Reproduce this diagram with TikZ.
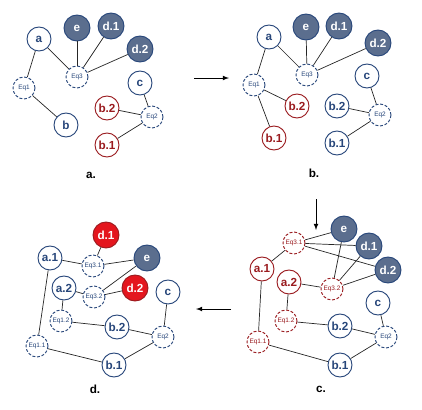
\documentclass[tikz,border=0pt]{standalone}
\usepackage{fontspec}
\setmainfont{Liberation Sans}
\usetikzlibrary{arrows}
\definecolor{nblue}{HTML}{27467A}
\definecolor{nslate}{HTML}{5B6E8E}
\definecolor{nred}{HTML}{9A1B1F}
\definecolor{nbright}{HTML}{E4161E}
\begin{document}
\begin{tikzpicture}[x=0.03cm,y=-0.03cm]

\useasboundingbox (0,0) rectangle (422,409);

\tikzstyle{var}=[shape=circle,draw=nblue,line width=0.8pt,fill=white,minimum size=0.72cm,inner sep=0pt,font=\bfseries\fontsize{10}{10}\selectfont,text=nblue]
\tikzstyle{redvar}=[var,draw=nred,text=nred]
\tikzstyle{fixed}=[var,fill=nslate,text=white,minimum size=0.78cm]
\tikzstyle{hot}=[var,draw=nred,fill=nbright,text=white,minimum size=0.78cm]
\tikzstyle{eqn}=[shape=circle,draw=nblue,dash pattern=on 2.5pt off 1.5pt,line width=0.8pt,fill=white,minimum size=0.66cm,inner sep=0pt,font=\fontsize{5.5}{5.5}\selectfont,text=nblue]
\tikzstyle{redeqn}=[eqn,draw=nred,text=nred]
\tikzstyle{caption}=[font=\bfseries\fontsize{10}{10}\selectfont]
\tikzstyle{link}=[line width=0.6pt,black!85]

% panel a
\path (39,39)   node[var] (Aa) {a};
\path (77,28)   node[fixed] (Ae) {e};
\path (111,26)  node[fixed] (Ad1) {d.1};
\path (140,49)  node[fixed] (Ad2) {d.2};
\path (77,77)   node[eqn] (AEq3) {Eq3};
\path (24,88)   node[eqn] (AEq1) {Eq1};
\path (66,125)  node[var] (Ab) {b};
\path (140,83)  node[var] (Ac) {c};
\path (107,108) node[redvar] (Ab2) {b.2};
\path (152,117) node[eqn] (AEq2) {Eq2};
\path (107,145) node[redvar] (Ab1) {b.1};
\path (91,175)  node[caption] (Acap) {a.};

% panel b
\path (269,37)  node[var] (Ba) {a};
\path (306,27)  node[fixed] (Be) {e};
\path (339,26)  node[fixed] (Bd1) {d.1};
\path (378,43)  node[fixed] (Bd2) {d.2};
\path (307,75)  node[eqn] (BEq3) {Eq3};
\path (254,85)  node[eqn] (BEq1) {Eq1};
\path (297,106) node[redvar] (BRb2) {b.2};
\path (274,138) node[redvar] (BRb1) {b.1};
\path (367,76)  node[var] (Bc) {c};
\path (337,106) node[var] (Bb2) {b.2};
\path (380,115) node[eqn] (BEq2) {Eq2};
\path (337,143) node[var] (Bb1) {b.1};
\path (314,173) node[caption] (Bcap) {b.};

% panel c
\path (344,229) node[fixed] (Ce) {e};
\path (294,243) node[redeqn] (CEq31) {Eq3.1};
\path (369,246) node[fixed] (Cd1) {d.1};
\path (262,269) node[redvar] (Ca1) {a.1};
\path (388,270) node[fixed] (Cd2) {d.2};
\path (289,282) node[redvar] (Ca2) {a.2};
\path (332,289) node[redeqn] (CEq32) {Eq3.2};
\path (378,303) node[var] (Cc) {c};
\path (286,321) node[redeqn] (CEq12) {Eq1.2};
\path (340,326) node[var] (Cb2) {b.2};
\path (386,337) node[eqn] (CEq2) {Eq2};
\path (258,342) node[redeqn] (CEq11) {Eq1.1};
\path (340,365) node[var] (Cb1) {b.1};
\path (321,389) node[caption] (Ccap) {c.};

% panel d
\path (106,235) node[hot] (Dd1) {d.1};
\path (50,258)  node[var] (Da1) {a.1};
\path (93,266)  node[eqn] (DEq31) {Eq3.1};
\path (147,258) node[fixed] (De) {e};
\path (64,288)  node[var] (Da2) {a.2};
\path (94,297)  node[eqn] (DEq32) {Eq3.2};
\path (135,288) node[hot] (Dd2) {d.2};
\path (168,292) node[var] (Dc) {c};
\path (61,321)  node[eqn] (DEq12) {Eq1.2};
\path (117,327) node[var] (Db2) {b.2};
\path (163,337) node[eqn] (DEq2) {Eq2};
\path (37,346)  node[eqn] (DEq11) {Eq1.1};
\path (114,365) node[var] (Db1) {b.1};
\path (95,389)  node[caption] (Dcap) {d.};

% arrow ends
\coordinate (AtoBs) at (194,78);
\coordinate (AtoBe) at (229,78);
\coordinate (BtoCs) at (316,199);
\coordinate (BtoCe) at (316,230);
\coordinate (CtoDs) at (231,309);
\coordinate (CtoDe) at (196,309);

% edges
\draw[link] (Aa) -- (AEq1);
\draw[link] (Aa) -- (AEq3);
\draw[link] (AEq3) -- (Ae);
\draw[link] (AEq3) -- (Ad1);
\draw[link] (AEq3) -- (Ad2);
\draw[link] (AEq1) -- (Ab);
\draw[link] (Ac) -- (AEq2);
\draw[link] (Ab2) -- (AEq2);
\draw[link] (Ab1) -- (AEq2);

\draw[link] (Ba) -- (BEq1);
\draw[link] (Ba) -- (BEq3);
\draw[link] (BEq3) -- (Be);
\draw[link] (BEq3) -- (Bd1);
\draw[link] (BEq3) -- (Bd2);
\draw[link] (BEq1) -- (BRb2);
\draw[link] (BEq1) -- (BRb1);
\draw[link] (Bc) -- (BEq2);
\draw[link] (Bb2) -- (BEq2);
\draw[link] (Bb1) -- (BEq2);

\draw[link] (CEq31) -- (Ce);
\draw[link] (CEq31) -- (Cd1);
\draw[link] (CEq31) -- (Cd2);
\draw[link] (CEq31) -- (Ca1);
\draw[link] (Ca1) -- (CEq11);
\draw[link] (Ca2) -- (CEq32);
\draw[link] (CEq32) -- (Ce);
\draw[link] (CEq32) -- (Cd1);
\draw[link] (CEq32) -- (Cd2);
\draw[link] (Ca2) -- (CEq12);
\draw[link] (CEq12) -- (Cb2);
\draw[link] (CEq11) -- (Cb1);
\draw[link] (Cb2) -- (CEq2);
\draw[link] (Cb1) -- (CEq2);
\draw[link] (Cc) -- (CEq2);

\draw[link] (Dd1) -- (DEq31);
\draw[link] (Da1) -- (DEq31);
\draw[link] (DEq31) -- (De);
\draw[link] (Da2) -- (DEq32);
\draw[link] (DEq32) -- (De);
\draw[link] (DEq32) -- (Dd2);
\draw[link] (Da1) -- (DEq11);
\draw[link] (Da2) -- (DEq12);
\draw[link] (DEq12) -- (Db2);
\draw[link] (Db2) -- (DEq2);
\draw[link] (DEq11) -- (Db1);
\draw[link] (Db1) -- (DEq2);
\draw[link] (Dc) -- (DEq2);

\draw[->,>=latex,line width=0.8pt] (AtoBs) -- (AtoBe);
\draw[->,>=latex,line width=0.8pt] (BtoCs) -- (BtoCe);
\draw[->,>=latex,line width=0.8pt] (CtoDs) -- (CtoDe);

\end{tikzpicture}
\end{document}
